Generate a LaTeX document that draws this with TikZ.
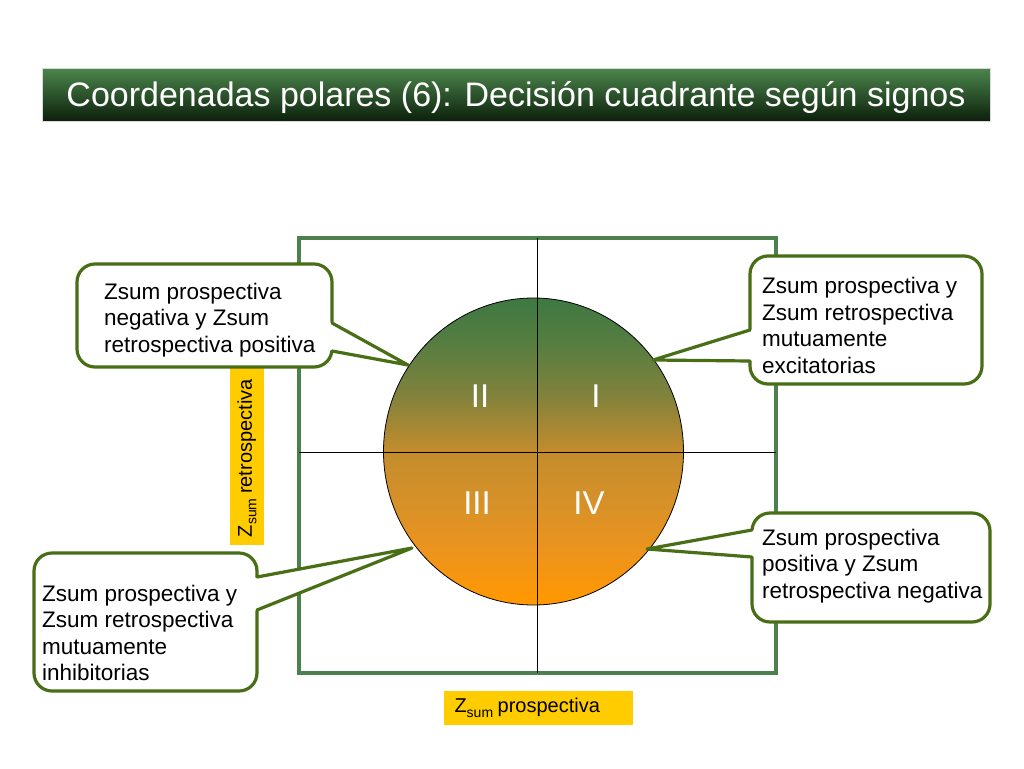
\documentclass[tikz,border=0pt]{standalone}
\usepackage{fontspec}
\setmainfont{Liberation Sans}
\usetikzlibrary{calc,shapes.geometric}
\definecolor{titletop}{RGB}{76,134,76}
\definecolor{titlebot}{RGB}{12,32,12}
\definecolor{sqgreen}{RGB}{76,128,76}
\definecolor{cgreen}{RGB}{72,110,22}
\definecolor{zyellow}{RGB}{255,204,0}
\pgfdeclareverticalshading{discshade}{100bp}{%
  rgb(0bp)=(1,0.596,0);
  rgb(26bp)=(1,0.596,0.01);
  rgb(34bp)=(0.925,0.58,0.118);
  rgb(41.6bp)=(0.843,0.569,0.157);
  rgb(50bp)=(0.765,0.549,0.176);
  rgb(59bp)=(0.51,0.51,0.235);
  rgb(68bp)=(0.333,0.49,0.255);
  rgb(75bp)=(0.243,0.471,0.259);
  rgb(100bp)=(0.243,0.471,0.259)}
\newcommand{\mycallout}[5]{%
  \draw[cbox] #1 rectangle #2;
  \fill[white] ($#3!-6pt!#5$) -- #5 -- ($#4!-6pt!#5$) -- cycle;
  \draw[cedge] #3 -- #5 -- #4;}
\newcommand{\zsum}{Z\raisebox{-4.5pt}{\fontsize{14}{14}\selectfont sum}\hspace{4.5pt}}
\begin{document}
\begin{tikzpicture}[x=1pt,y=-1pt,
  cbox/.style={draw=cgreen, line width=3.2pt, fill=white, rounded corners=18pt},
  cedge/.style={draw=cgreen, line width=3.2pt, line cap=round, line join=round},
  ctext/.style={align=left, inner sep=0pt, anchor=west, font=\fontsize{22.5}{26.5}\selectfont},
  ylab/.style={fill=zyellow, inner ysep=0pt, font=\fontsize{20}{24}\selectfont, minimum height=34pt, align=left},
  roman/.style={text=white, inner sep=0pt, font=\fontsize{33}{38}\selectfont},
  axis/.style={draw=black, line width=0.9pt}]
\useasboundingbox[fill=white] (0,0) rectangle (1024,768);
% title bar
\shade[top color=titletop, bottom color=titlebot, draw=black!15, line width=1pt] (42,68) rectangle (990,121);
\node[text=white, inner sep=0pt, anchor=base, font=\fontsize{34}{40}\selectfont] (title) at (516,106.5) {Coordenadas polares (6): Decisión cuadrante según signos};
% frame
\draw[sqgreen, line width=4pt] (299,238) rectangle (776,673);
% disc
\node[ellipse, draw=black, line width=0.8pt, minimum width=300pt, minimum height=307pt, inner sep=0pt, shading=discshade] (disc) at (533.5,451.5) {};
% axes
\coordinate (vt) at (537,238);
\coordinate (vb) at (537,673);
\coordinate (hl) at (299,452);
\coordinate (hr) at (776,452);
\draw[axis] (vt) -- (vb);
\draw[axis] (hl) -- (hr);
% quadrant numerals
\node[roman] (q2) at (480,396) {II};
\node[roman] (q1) at (596,396) {I};
\node[roman] (q3) at (477,503) {III};
\node[roman] (q4) at (589,503) {IV};
% axis labels
\node[ylab, rotate=90, minimum width=177pt, text width=161pt, inner xsep=8pt] (ylabel) at (247,456.5) {\zsum retrospectiva};
\node[ylab, minimum width=189pt, text width=167pt, inner xsep=11pt] (xlabel) at (538,708) {\zsum prospectiva};
% callouts
\mycallout{(77,264)}{(332,367)}{(332,323)}{(332,351)}{(408,365)}
\node[ctext] (c1) at (104,320) {Zsum prospectiva\\negativa y Zsum\\retrospectiva positiva};
\mycallout{(750,256)}{(982,384)}{(750,330)}{(750,361)}{(653,360)}
\node[ctext] (c2) at (762,325.5) {Zsum prospectiva y\\Zsum retrospectiva\\mutuamente\\excitatorias};
\mycallout{(34,553)}{(257,691)}{(257,577)}{(257,610)}{(412,548)}
\node[ctext] (c3) at (42,633) {Zsum prospectiva y\\Zsum retrospectiva\\mutuamente\\inhibitorias};
\mycallout{(752,513)}{(990,622)}{(752,530)}{(752,557)}{(647,549)}
\node[ctext] (c4) at (762,566) {Zsum prospectiva\\positiva y Zsum\\retrospectiva negativa};
\end{tikzpicture}
\end{document}
